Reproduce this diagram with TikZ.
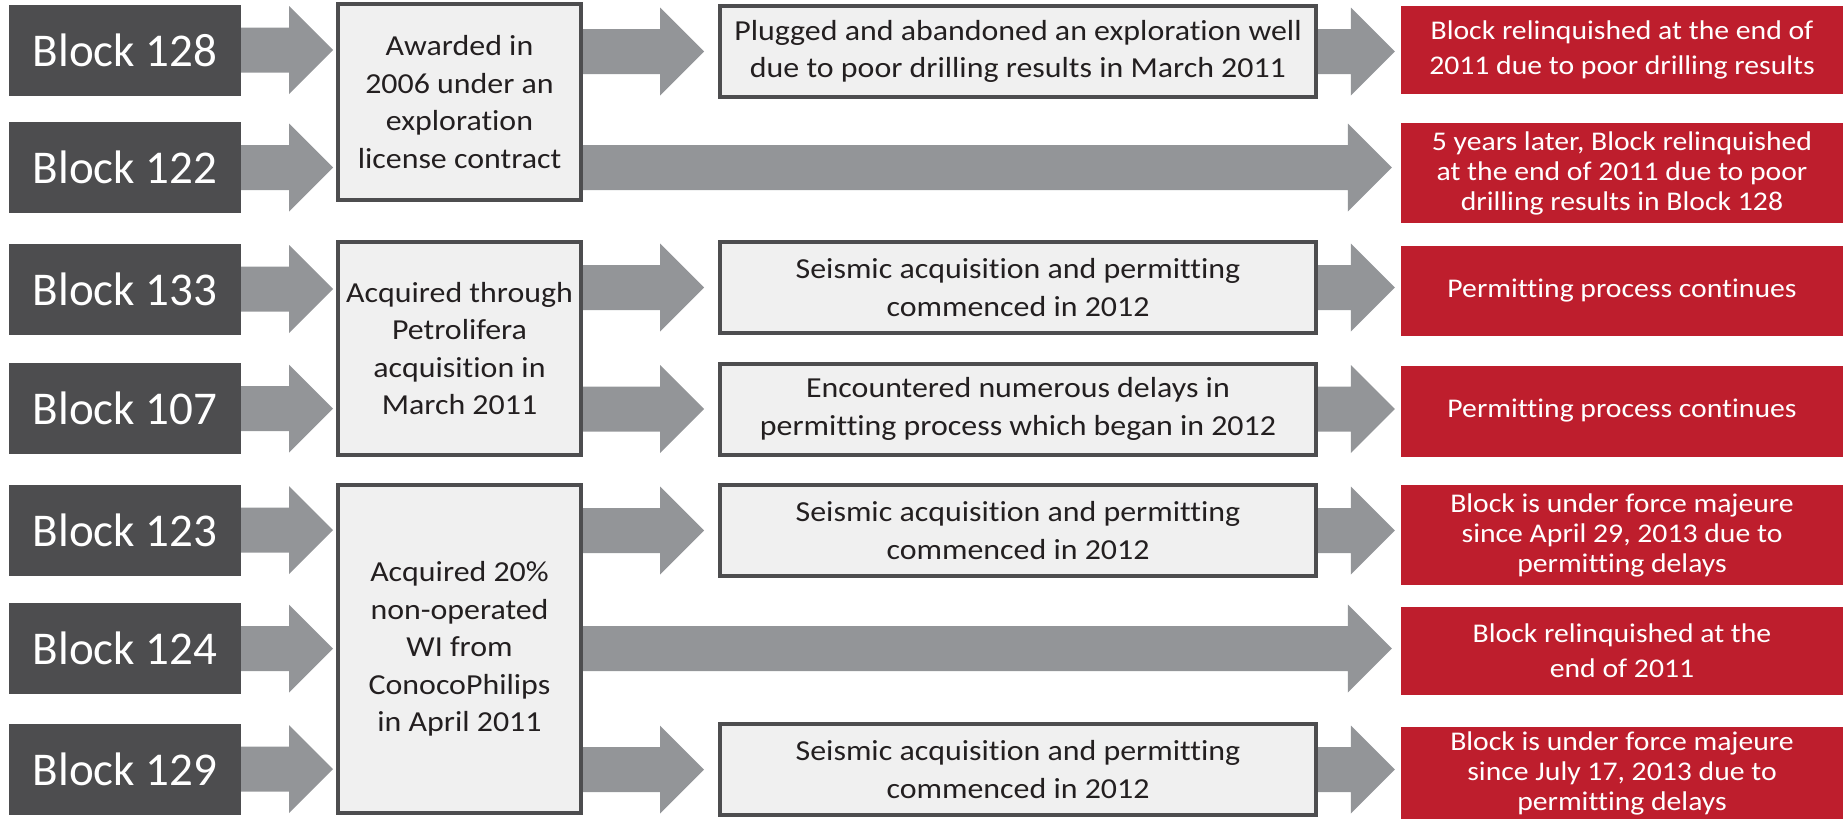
\documentclass[tikz,border=0pt]{standalone}
\usepackage{fontspec}
\setmainfont{Carlito}[Ligatures={NoCommon}]
\newfontfamily\widefont{Carlito}[Ligatures={NoCommon}, FakeStretch=1.1]
\usetikzlibrary{calc}

\definecolor{blockgray}{HTML}{4D4D4F}
\definecolor{arrowgray}{HTML}{939598}
\definecolor{panelgray}{HTML}{F0F0F0}
\definecolor{endred}{HTML}{BE1E2D}
\definecolor{inkdark}{HTML}{231F20}

\tikzset{
  blockbox/.style={fill=blockgray, text=white, minimum width=232pt, minimum height=91pt, inner sep=0pt, font=\fontsize{47}{56}\selectfont},
  stagebox/.style={draw=blockgray, fill=panelgray, line width=4pt, text=inkdark, minimum width=243pt, align=center, inner sep=0pt, font=\widefont\fontsize{29}{37.6}\selectfont},
  stepbox/.style={draw=blockgray, fill=panelgray, line width=4pt, text=inkdark, minimum width=596pt, minimum height=91pt, align=center, inner sep=0pt, font=\widefont\fontsize{29}{37.6}\selectfont},
  endbox/.style={fill=endred, text=white, minimum width=442pt, align=center, inner sep=0pt, font=\widefont\fontsize{27}{30}\selectfont},
}

% fat arrow: [gap]{from}{to}, stays on the height of "from"
\newcommand{\bigarrow}[3][3]{%
  \fill[arrowgray] let \p1=#2, \p2=#3 in
    (\x1,\y1+22.5pt) -- (\x2-#1pt-44pt,\y1+22.5pt) -- (\x2-#1pt-44pt,\y1+44pt)
    -- (\x2-#1pt,\y1) -- (\x2-#1pt-44pt,\y1-44pt) -- (\x2-#1pt-44pt,\y1-22.5pt)
    -- (\x1,\y1-22.5pt) -- cycle;}

\begin{document}
\begin{tikzpicture}[x=1pt, y=-1pt]
  \useasboundingbox (0,0) rectangle (1843,819);

  % Draw the blocks
  \node[blockbox] (b128) at (125,50) {Block 128};
  \node[blockbox] (b122) at (125,167.5) {Block 122};
  \node[blockbox] (b133) at (125,289) {Block 133};
  \node[blockbox] (b107) at (125,408.5) {Block 107};
  \node[blockbox] (b123) at (125,530) {Block 123};
  \node[blockbox] (b124) at (125,648.5) {Block 124};
  \node[blockbox] (b129) at (125,769) {Block 129};

  % Draw how they were obtained
  \node[stagebox, minimum height=196pt] (awd) at (459.5,102) {Awarded in\\2006 under an\\exploration\\license contract};
  \node[stagebox, minimum height=213pt] (petro) at (459.5,348.5) {Acquired through\\Petrolifera\\acquisition in\\March 2011};
  \node[stagebox, minimum height=328pt] (conoco) at (459.5,649) {Acquired 20\%\\non-operated\\WI from\\ConocoPhilips\\in April 2011};

  % Draw the work done
  \node[stepbox] (s128) at (1018,51.5) {Plugged and abandoned an exploration well\\due to poor drilling results in March 2011};
  \node[stepbox] (s133) at (1018,287.5) {Seismic acquisition and permitting\\commenced in 2012};
  \node[stepbox] (s107) at (1018,409) {Encountered numerous delays in\\permitting process which began in 2012};
  \node[stepbox] (s123) at (1018,530.5) {Seismic acquisition and permitting\\commenced in 2012};
  \node[stepbox] (s129) at (1018,769.5) {Seismic acquisition and permitting\\commenced in 2012};

  % Draw the status
  \node[endbox, minimum height=88pt, font=\widefont\fontsize{27}{35}\selectfont] (r128) at (1622,50) {Block relinquished at the end of\\2011 due to poor drilling results};
  \node[endbox, minimum height=100pt] (r122) at (1622,173) {5 years later, Block relinquished\\at the end of 2011 due to poor\\drilling results in Block 128};
  \node[endbox, minimum height=90pt] (r133) at (1622,290.5) {Permitting process continues};
  \node[endbox, minimum height=91pt] (r107) at (1622,411) {Permitting process continues};
  \node[endbox, minimum height=100pt] (r123) at (1622,535) {Block is under force majeure\\since April 29, 2013 due to\\permitting delays};
  \node[endbox, minimum height=88pt, font=\widefont\fontsize{27}{35}\selectfont] (r124) at (1622,651) {Block relinquished at the\\end of 2011};
  \node[endbox, minimum height=92pt] (r129) at (1622,773) {Block is under force majeure\\since July 17, 2013 due to\\permitting delays};

  % Draw the arrows
  \bigarrow{(b128.east)}{(awd.west)}
  \bigarrow{(b122.east)}{(awd.west)}
  \bigarrow{(b133.east)}{(petro.west)}
  \bigarrow{(b107.east)}{(petro.west)}
  \bigarrow{(b123.east)}{(conoco.west)}
  \bigarrow{(b124.east)}{(conoco.west)}
  \bigarrow{(b129.east)}{(conoco.west)}

  \bigarrow[14]{(awd.east |- s128.west)}{(s128.west)}
  \bigarrow[14]{(petro.east |- s133.west)}{(s133.west)}
  \bigarrow[14]{(petro.east |- s107.west)}{(s107.west)}
  \bigarrow[14]{(conoco.east |- s123.west)}{(s123.west)}
  \bigarrow[14]{(conoco.east |- s129.west)}{(s129.west)}

  \bigarrow[6]{(s128.east)}{(r128.west)}
  \bigarrow[6]{(s133.east)}{(r133.west)}
  \bigarrow[6]{(s107.east)}{(r107.west)}
  \bigarrow[6]{(s123.east)}{(r123.west)}
  \bigarrow[6]{(s129.east)}{(r129.west)}

  % Long ones straight to the end
  \bigarrow[9]{(awd.east |- b122.east)}{(r122.west)}
  \bigarrow[9]{(conoco.east |- b124.east)}{(r124.west)}
\end{tikzpicture}
\end{document}
